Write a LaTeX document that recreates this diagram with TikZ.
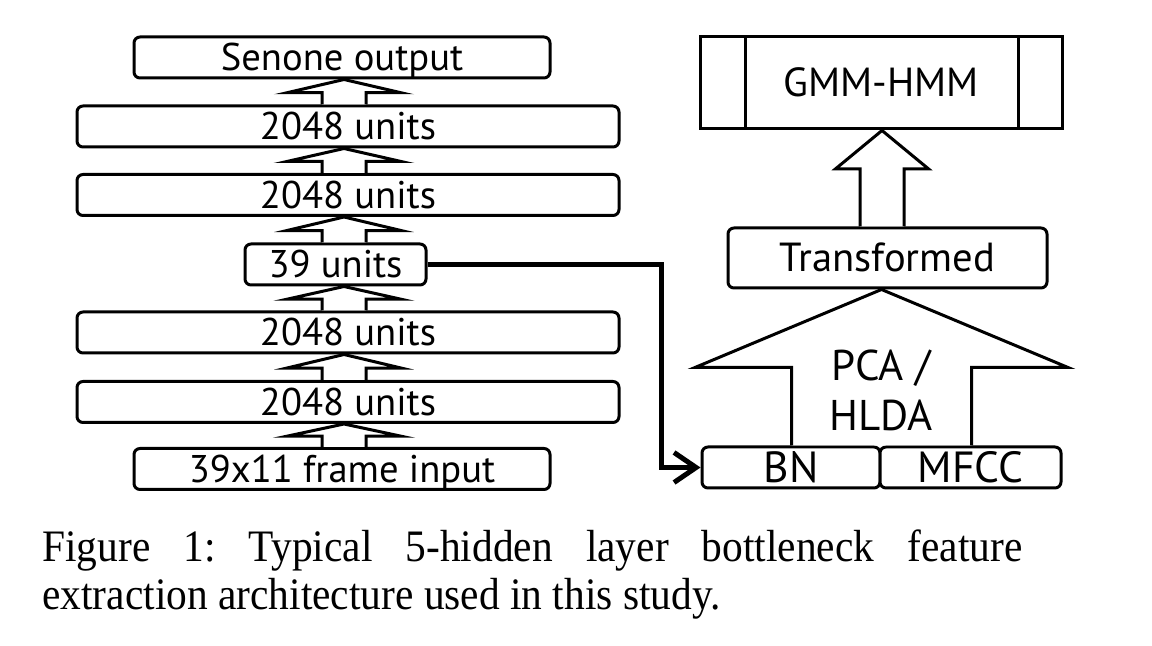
\documentclass[tikz,border=0pt]{standalone}
\usepackage{fontspec}
\setmainfont{Liberation Serif}
\newfontfamily\diagfont{PT Sans}
\newfontfamily\capfont{Liberation Serif}[FakeStretch=0.92]
\usetikzlibrary{arrows.meta, calc}
\tikzset{
  layer/.style={
    rectangle, rounded corners=3pt, draw=black, line width=1.5pt, fill=white,
    minimum height=20.5pt, inner sep=0pt, text depth=0pt, text height=13.5pt,
    font=\diagfont\fontsize{19.3}{20}\selectfont
  },
  plainbox/.style={
    rectangle, draw=black, line width=1.5pt, inner sep=0pt,
    text depth=0pt, text height=14pt, font=\diagfont\fontsize{20.3}{21}\selectfont
  },
  feat/.style={layer, text height=15pt, font=\diagfont\fontsize{21.8}{22}\selectfont},
  blockarrow/.style={draw=black, line width=1.5pt, fill=white, line join=miter},
  link/.style={-{Straight Barb[length=11pt,width=15pt]}, line width=2.5pt}
}
% block arrow: lower node, upper node, x centre, head half width, shaft half width, head share
\newcommand{\blockup}[6]{%
  \draw[blockarrow] let \p1=(#1.north), \p2=(#2.south), \n1={#3*0.5pt}, \n2={#4*0.5pt},
      \n3={#5*0.5pt}, \n4={\y2+(\y1-\y2)*#6} in
    (\n1-\n3,\y1) -- (\n1-\n3,\n4) -- (\n1-\n2,\n4) -- (\n1,\y2)
    -- (\n1+\n2,\n4) -- (\n1+\n3,\n4) -- (\n1+\n3,\y1);}

\begin{document}
\begin{tikzpicture}[x=0.5pt, y=-0.5pt]
\useasboundingbox (0,0) rectangle (1152,646);
% left stack
\node[layer, minimum width=208pt] (senone) at (342,57.5) {Senone output};
\node[layer, minimum width=271pt] (hid1) at (348,126.5) {2048 units};
\node[layer, minimum width=271pt] (hid2) at (348,195) {2048 units};
\node[layer, minimum width=90.5pt] (bneck) at (335.5,264.5) {39 units};
\node[layer, minimum width=271pt] (hid3) at (348,332.5) {2048 units};
\node[layer, minimum width=271pt] (hid4) at (348,402) {2048 units};
\node[layer, minimum width=208pt] (input) at (342,469) {39x11 frame input};
\blockup{hid1}{senone}{344}{57}{22}{0.53}
\blockup{hid2}{hid1}{344}{57}{22}{0.53}
\blockup{bneck}{hid2}{344}{57}{22}{0.53}
\blockup{hid3}{bneck}{344}{57}{22}{0.53}
\blockup{hid4}{hid3}{344}{57}{22}{0.53}
\blockup{input}{hid4}{344}{57}{22}{0.53}
% right side
\node[plainbox, minimum width=181pt, minimum height=46pt] (gmm) at (881,83) {GMM-HMM};
\draw[line width=1.5pt] ([xshift=23.5pt]gmm.north west) -- ([xshift=23.5pt]gmm.south west);
\draw[line width=1.5pt] ([xshift=-22.5pt]gmm.north east) -- ([xshift=-22.5pt]gmm.south east);
\node[layer, minimum width=159.5pt, minimum height=30pt, text height=14pt,
  font=\diagfont\fontsize{20.3}{21}\selectfont] (transformed) at (887.5,258) {Transformed};
\node[feat, minimum width=89pt] (bn) at (791,467.5) {BN};
\node[feat, minimum width=90.5pt] (mfcc) at (970.5,467.5) {MFCC};
\blockup{transformed}{gmm}{882}{46.5}{22}{0.4}
\blockup{bn}{transformed}{881.5}{186.5}{90}{0.5}
\node[align=center, inner sep=0pt, font=\diagfont\fontsize{21.5}{25}\selectfont] (pca) at (881,390) {PCA /\\HLDA};
\draw[link] (bneck.east) -| ([xshift=-19.5pt]bn.west) -- (bn.west);
% caption
\node[anchor=north west, inner sep=0pt, text width=490pt, align=justify,
  font=\capfont\fontsize{22.5}{24}\selectfont] (caption) at (42,529)
  {\frenchspacing\tolerance=10000 Figure 1: Typical 5-hidden layer bottleneck feature\linebreak
   extraction architecture used in this study.};
\end{tikzpicture}
\end{document}
